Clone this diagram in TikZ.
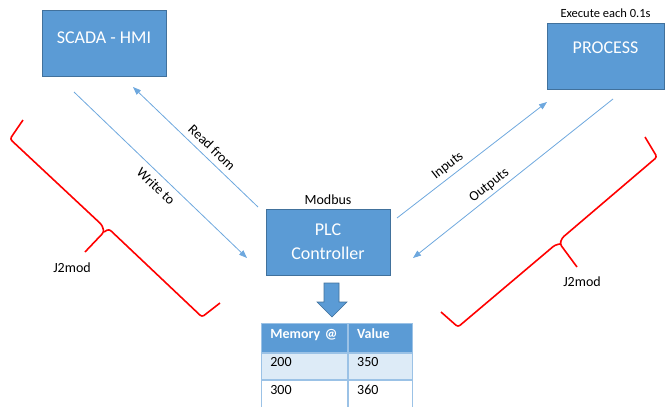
\documentclass[tikz,border=0pt]{standalone}
\usepackage{fontspec}
\setmainfont{Carlito}
\usetikzlibrary{arrows.meta,positioning}
\definecolor{boxblue}{RGB}{91,155,213}
\definecolor{boxedge}{RGB}{65,113,156}
\definecolor{lineblue}{RGB}{110,168,222}
\definecolor{rowblue}{RGB}{221,235,247}
\definecolor{cellline}{RGB}{155,194,230}
\tikzset{
  unit/.style={
    draw=boxedge,
    fill=boxblue,
    text=white,
    align=center,
    inner sep=0pt,
    line width=0.8pt,
    font=\fontsize{18}{24}\selectfont
  },
  link/.style={-{Triangle[length=8pt,width=6pt]}, draw=lineblue, line width=0.8pt},
  tag/.style={inner sep=1pt, font=\fontsize{14}{16}\selectfont},
  brace/.style={draw=red, line width=1.6pt, rounded corners=2.5pt},
  cell/.style={
    draw=cellline,
    line width=0.8pt,
    anchor=north west,
    inner xsep=9pt,
    inner ysep=0pt,
    text depth=8pt,
    align=left,
    font=\fontsize{14}{16}\selectfont
  },
  head/.style={cell, fill=boxblue, text=white, font=\fontsize{14}{16}\selectfont\bfseries, minimum height=29pt}
}
\begin{document}
\begin{tikzpicture}[x=1pt,y=-1pt]
  \useasboundingbox (0,0) rectangle (665,407);
  % the three blocks
  \node[unit, minimum width=124pt, minimum height=66pt, text depth=10pt] (scada) at (104,43) {SCADA - HMI};
  \node[unit, minimum width=117pt, minimum height=66pt, text depth=16pt] (process) at (605.5,56) {PROCESS};
  \node[unit, minimum width=124pt, minimum height=66pt] (plc) at (328,242) {PLC\\Controller};
  \node[tag, inner sep=2pt, font=\fontsize{12.5}{14}\selectfont, above=3pt of process] (cycle) {Execute each 0.1s};
  \node[tag, inner sep=2pt, above=2pt of plc] (bus) {Modbus};

  % connector ends
  \coordinate (w1) at (74,92);
  \coordinate (w2) at (247,258);
  \coordinate (r1) at (258,207);
  \coordinate (r2) at (133,87);
  \coordinate (i1) at (397,218);
  \coordinate (i2) at (547,102);
  \coordinate (o1) at (613,99);
  \coordinate (o2) at (413,258);
  \draw[link] (w1) -- node[tag, sloped, pos=0.52, below=5pt] (wlab) {Write to} (w2);
  \draw[link] (r1) -- node[tag, sloped, pos=0.43, above=5pt] (rlab) {Read from} (r2);
  \draw[link] (i1) -- node[tag, sloped, pos=0.38, above=3pt] (ilab) {Inputs} (i2);
  \draw[link] (o1) -- node[tag, sloped, pos=0.59, above=2pt] (olab) {Outputs} (o2);

  % J2mod brackets
  \draw[brace] (23,120) -- (10,139) -- (102,225) -- (104,232) -- (85,252);
  \draw[brace] (104,232) -- (109,229) -- (202,317) -- (220,303);
  \node[tag] (jleft) at (72,268) {J2mod};
  \draw[brace] (645,137) -- (657,157) -- (562,238) -- (560,244) -- (577,267);
  \draw[brace] (560,244) -- (555,245) -- (458,327) -- (441,312);
  \node[tag] (jright) at (582,282) {J2mod};

  % down arrow to memory
  \draw[draw=boxedge, fill=boxblue, line width=0.6pt] (324,283) -- (339,283) -- (339,302) -- (347,302)
    -- (332,317) -- (317,302) -- (324,302) -- cycle;

  % memory table
  \node[head, text width=68pt] (h1) at (261,323) {Memory @};
  \node[head, text width=46pt, right=0pt of h1] (h2) {Value};
  \node[cell, fill=rowblue, text width=68pt, minimum height=26pt, below=0pt of h1] (a1) {200};
  \node[cell, fill=rowblue, text width=46pt, minimum height=26pt, right=0pt of a1] (b1) {350};
  \node[cell, text width=68pt, minimum height=27pt, below=0pt of a1] (a2) {300};
  \node[cell, text width=46pt, minimum height=27pt, right=0pt of a2] (b2) {360};
\end{tikzpicture}
\end{document}
